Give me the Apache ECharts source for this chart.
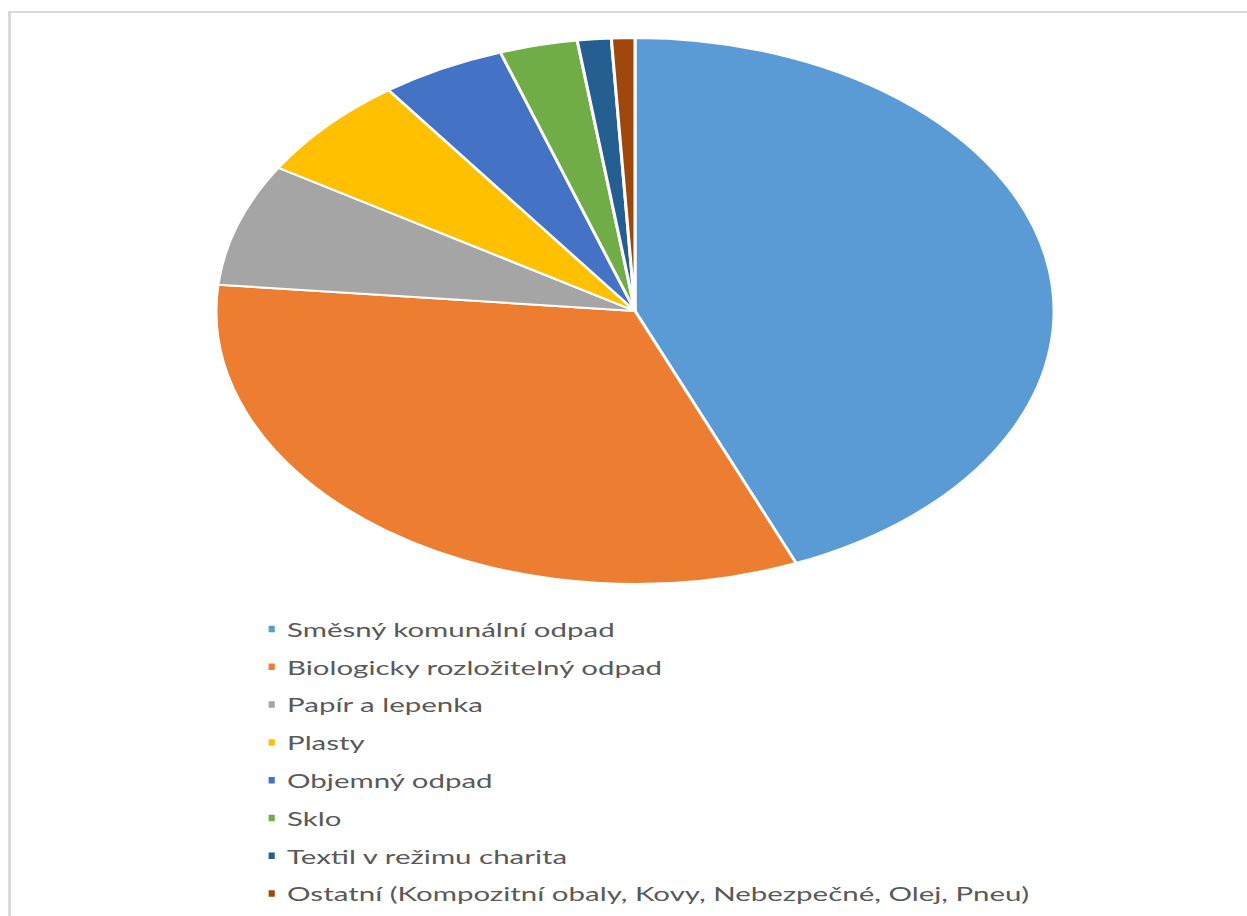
<!DOCTYPE html>
<html>
<head>
<meta charset="utf-8">
<script src="https://cdn.jsdelivr.net/npm/echarts@6/dist/echarts.min.js"></script>
<style>
html,body{margin:0;padding:0;background:#fff;width:1247px;height:916px;overflow:hidden;}
#frame{position:absolute;left:8px;top:11px;width:1300px;height:1000px;border-left:3px solid #d9d9d9;border-top:2px solid #d9d9d9;box-sizing:border-box;}
#chart{position:absolute;left:0;top:0;width:812.4px;height:916px;transform:scaleX(1.535);transform-origin:0 0;}
</style>
</head>
<body>
<div id="frame"></div>
<div id="chart"></div>
<script>
const categories = [
  "Směsný komunální odpad",
  "Biologicky rozložitelný odpad",
  "Papír a lepenka",
  "Plasty",
  "Objemný odpad",
  "Sklo",
  "Textil v režimu charita",
  "Ostatní (Kompozitní obaly, Kovy, Nebezpečné, Olej, Pneu)"
];
const values = [43.7, 32.8, 7.25, 6.2, 4.8, 3.0, 1.3, 0.9];
const colors = ["#5B9BD5", "#ED7D31", "#A5A5A5", "#FFC000", "#4472C4", "#70AD47", "#255E91", "#9E480E"];

const chart = echarts.init(document.getElementById('chart'), null, {renderer: 'svg'});
chart.setOption({
  animation: false,
  color: colors,
  legend: {
    orient: 'vertical',
    left: 168,
    top: 614,
    itemWidth: 6,
    itemHeight: 8.5,
    itemGap: 17.8,
    icon: 'rect',
    data: categories,
    textStyle: {
      color: '#595959',
      fontFamily: 'Lato',
      fontSize: 19.2,
      lineHeight: 20,
      padding: [0, 0, 0, 2]
    }
  },
  series: [{
    type: 'pie',
    center: [413.7, 311],
    radius: [0, 273],
    startAngle: 90,
    clockwise: true,
    label: {show: false},
    labelLine: {show: false},
    itemStyle: {borderColor: '#ffffff', borderWidth: 2},
    emphasis: {disabled: true},
    data: categories.map((c, i) => ({name: c, value: values[i]}))
  }]
});
</script>
</body>
</html>
